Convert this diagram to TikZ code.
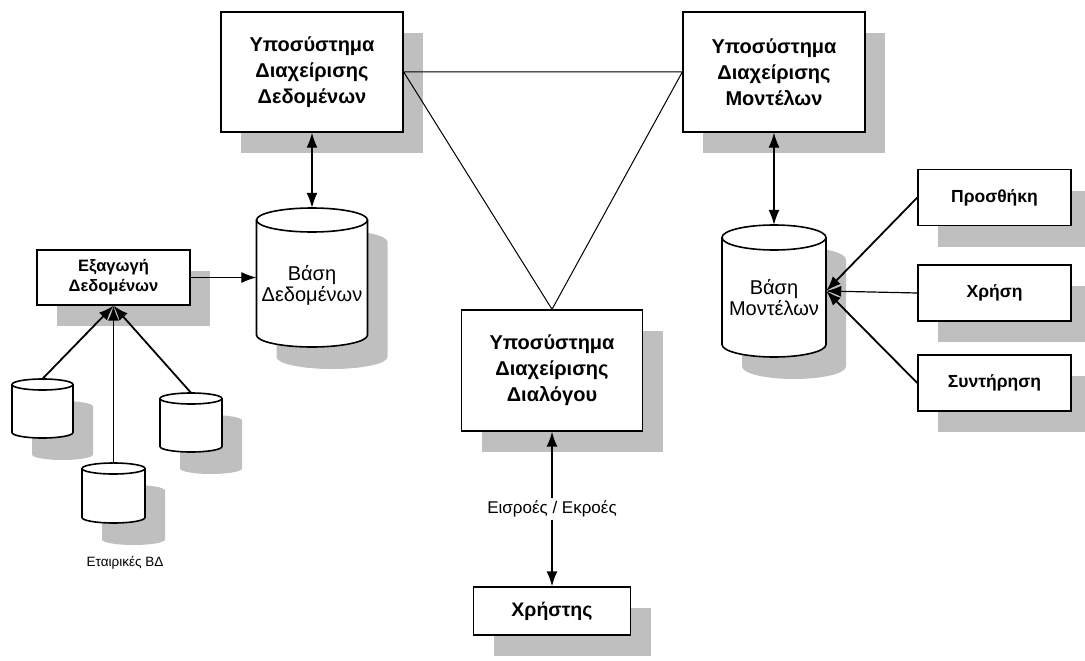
\documentclass[tikz,border=0pt]{standalone}
\usepackage{fontspec}
\setmainfont{Liberation Sans}
\usetikzlibrary{shadows,arrows.meta}
% outline of a standing cylinder: width, height, cap radius
\newcommand{\cylpath}[3]{({-#1/2},{-#2/2+#3}) -- ({-#1/2},{#2/2-#3})
  arc[start angle=180,end angle=360,x radius=#1pt/2,y radius=#3pt]
  -- ({#1/2},{-#2/2+#3})
  arc[start angle=0,end angle=180,x radius=#1pt/2,y radius=#3pt] -- cycle}
% database: name, x, y, width, height, cap radius
\newcommand{\dbase}[6]{%
  \begin{scope}[shift={(#2,#3)}]
    \fill[black!25,shift={(20,22)}] \cylpath{#4}{#5}{#6};
    \filldraw[fill=white,line width=1.6pt] \cylpath{#4}{#5}{#6};
    \draw[line width=1.6pt] ({-#4/2},{-#5/2+#6}) arc[start angle=180,end angle=360,x radius=#4pt/2,y radius=#6pt];
  \end{scope}
  \node[minimum width=#4pt,minimum height=#5pt,inner sep=0pt] (#1) at (#2,#3) {};}
\begin{document}
\begin{tikzpicture}[x=1pt,y=-1pt,
  shade/.style={general shadow={fill=black!25,shadow xshift=20pt,shadow yshift=-21pt}},
  sub/.style={draw,line width=1.4pt,fill=white,shade,minimum width=182pt,minimum height=120pt,align=center,font=\bfseries\fontsize{20}{26}\selectfont},
  box/.style={draw,line width=1.4pt,fill=white,shade,minimum width=153pt,minimum height=56pt,align=center,font=\bfseries\fontsize{17.5}{20}\selectfont},
  dbtext/.style={align=center,inner sep=0pt,font=\fontsize{20}{21}\selectfont},
  tip/.style={-{Latex[length=15pt,width=11pt]}},
  both/.style={{Latex[length=15pt,width=11pt]}-{Latex[length=15pt,width=11pt]}}]
\useasboundingbox (0,0) rectangle (1085,661);
% subsystems
\node[sub] (data) at (312,72) {Υποσύστημα\\Διαχείρισης\\Δεδομένων};
\node[sub] (model) at (774,72) {Υποσύστημα\\Διαχείρισης\\Μοντέλων};
\node[sub,minimum width=181pt,minimum height=121pt] (dialog) at (552,370.5) {Υποσύστημα\\Διαχείρισης\\Διαλόγου};
\node[box,minimum width=157pt,minimum height=48pt,font=\bfseries\fontsize{19.5}{20}\selectfont] (user) at (552,611) {Χρήστης};
% databases
\dbase{dbdata}{312}{277.5}{111}{139}{12}
\node[dbtext] (dbdatatext) at ([yshift=-8pt]dbdata.center) {Βάση\\Δεδομένων};
\dbase{dbmodel}{774}{291}{104}{132}{12.5}
\node[dbtext] (dbmodeltext) at ([yshift=-7pt]dbmodel.center) {Βάση\\Μοντέλων};
\node[box,minimum height=55pt,font=\bfseries\fontsize{16.5}{20}\selectfont] (extract) at (113.5,277.5) {Εξαγωγή\\Δεδομένων};
\dbase{c1}{42.5}{408.5}{61}{59}{5.5}
\dbase{c2}{113.5}{493}{63}{60}{5.5}
\dbase{c3}{191}{422.5}{62}{59}{5.5}
\node[font=\fontsize{13.5}{16}\selectfont] (corp) at (125,563) {Εταιρικές ΒΔ};
% model tasks
\node[box] (add) at (994.5,197.5) {Προσθήκη};
\node[box] (use) at (994.5,293) {Χρήση};
\node[box] (keep) at (994.5,383) {Συντήρηση};
% connectors
\draw[line width=1pt] (data.east) -- (model.west) -- (dialog.north) -- (data.east);
\draw[both,line width=1.5pt] (data) -- (dbdata);
\draw[both,line width=1.2pt] (model) -- (dbmodel);
\draw[tip,line width=1pt] (extract) -- (dbdata);
\draw[tip,line width=1.8pt] (c1.north) -- (extract.south);
\draw[tip,line width=1.8pt] (c2.north) -- (extract.south);
\draw[tip,line width=1.8pt] (c3.north) -- (extract.south);
\draw[tip,line width=1.8pt] (add.west) -- (dbmodel.east);
\draw[tip,line width=1.2pt] (use.west) -- (dbmodel.east);
\draw[tip,line width=1.8pt] (keep.west) -- (dbmodel.east);
\draw[both,line width=1.5pt] (dialog) -- (user) node[midway,fill=white,inner sep=3pt,font=\fontsize{17}{20}\selectfont] {Εισροές / Εκροές};
\end{tikzpicture}
\end{document}
